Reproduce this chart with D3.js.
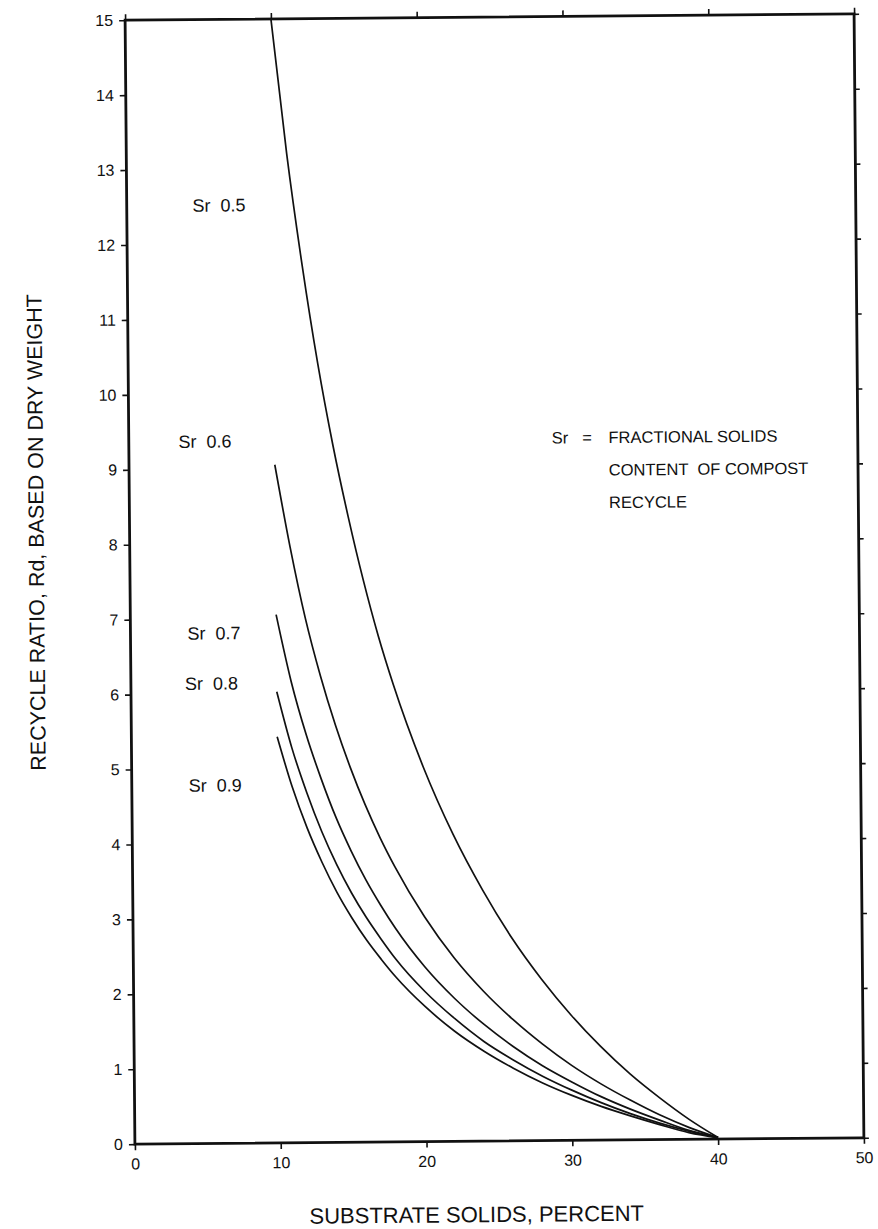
<!DOCTYPE html>
<html>
<head>
<meta charset="utf-8">
<script src="https://cdn.jsdelivr.net/npm/d3@7"></script>
<style>
  body { margin: 0; background: #fff; }
  text { font-family: "Liberation Sans", Arial, sans-serif; fill: #111; }
</style>
</head>
<body>
<div id="chart"></div>
<script>
// substrate solids, percent (x positions)
var solids = [10, 11, 12, 13, 14, 15, 16, 17, 18, 20, 22, 24, 26, 28, 30, 32, 34, 36, 38, 40];

// recycle ratio Rd
var sr05 = [15, 13.2, 11.7, 10.4, 9.3, 8.35, 7.5, 6.75, 6.1, 5.0, 4.1, 3.35, 2.7, 2.15, 1.67, 1.25, 0.88, 0.56, 0.27, 0.02];
var sr06 = [9.05, 7.95, 7.0, 6.23, 5.57, 5.0, 4.5, 4.06, 3.67, 3.0, 2.45, 2.0, 1.62, 1.29, 1.0, 0.75, 0.53, 0.33, 0.16, 0.02];
var sr07 = [7.05, 6.15, 5.44, 4.85, 4.33, 3.89, 3.5, 3.16, 2.85, 2.33, 1.91, 1.56, 1.26, 1.0, 0.78, 0.58, 0.41, 0.26, 0.12, 0.02];
var sr08 = [6.02, 5.27, 4.67, 4.15, 3.71, 3.33, 3.0, 2.71, 2.44, 2.0, 1.64, 1.33, 1.08, 0.86, 0.67, 0.5, 0.35, 0.22, 0.11, 0.02];
var sr09 = [5.42, 4.75, 4.2, 3.74, 3.34, 3.0, 2.7, 2.44, 2.2, 1.8, 1.47, 1.2, 0.97, 0.77, 0.6, 0.45, 0.32, 0.2, 0.09, 0.02];

var curveNames = ["Sr  0.5", "Sr  0.6", "Sr  0.7", "Sr  0.8", "Sr  0.9"];

var xTicks = [0, 10, 20, 30, 40, 50];
var yTicks = d3.range(0, 16);

var legendHead = ["Sr", "=", "FRACTIONAL SOLIDS"];
var legendLines = ["CONTENT  OF COMPOST", "RECYCLE"];

(function drawChart(){

  var W = 878, H = 1229;
  var margin = {top: 17, right: 19, bottom: 88, left: 130};
  var width = W - margin.left - margin.right,
      height = H - margin.top - margin.bottom;

  var x = d3.scaleLinear().domain([0, 50]).range([0, width]);
  var y = d3.scaleLinear().domain([0, 15]).range([height, 0]);

  var svg = d3.select("#chart").append("svg")
      .attr("width", W)
      .attr("height", H);

  // the scanned page sits slightly askew
  var g = svg.append("g")
      .attr("transform", "rotate(-0.5," + (margin.left + width / 2) + "," + (margin.top + height / 2) + ") translate(" + [margin.left, margin.top] + ")");

  // axes: ticks point outwards on all four sides
  var yAxis = d3.axisLeft(y).tickValues(yTicks).tickSize(6).tickPadding(6).tickFormat(d3.format("d"));
  var yAxisR = d3.axisRight(y).tickValues(yTicks).tickSize(5).tickFormat("");
  var xAxis = d3.axisBottom(x).tickValues(xTicks).tickSize(6).tickPadding(8).tickFormat(d3.format("d"));
  var xAxisT = d3.axisTop(x).tickValues(xTicks).tickSize(6).tickFormat("");

  g.append("g").attr("class", "y axis").call(yAxis);
  g.append("g").attr("class", "y axis r").attr("transform", "translate(" + width + ",0)").call(yAxisR);
  g.append("g").attr("class", "x axis").attr("transform", "translate(0," + height + ")").call(xAxis);
  g.append("g").attr("class", "x axis t").call(xAxisT);

  g.selectAll(".axis .domain").remove();
  g.selectAll(".axis line").attr("stroke", "#111").attr("stroke-width", 1.6);
  g.selectAll(".axis text")
      .attr("font-family", "Liberation Sans, Arial, sans-serif")
      .attr("font-size", "16px")
      .attr("fill", "#111");

  g.append("rect")
      .attr("x", 0).attr("y", 0)
      .attr("width", width).attr("height", height)
      .attr("fill", "none")
      .attr("stroke", "#111")
      .attr("stroke-width", 2.8);

  var series = [sr05, sr06, sr07, sr08, sr09].map(function(vals, i){
    return {
      name: curveNames[i],
      values: solids.map(function(s, j){ return {x: s, y: vals[j]}; })
    };
  });

  var line = d3.line()
      .curve(d3.curveMonotoneX)
      .x(function(d){ return x(d.x); })
      .y(function(d){ return y(d.y); });

  g.selectAll(".lines")
      .data(series)
    .enter().append("path")
      .attr("class", "lines")
      .attr("d", function(d){ return line(d.values); })
      .attr("fill", "none")
      .attr("stroke", "#111")
      .attr("stroke-width", 1.7);

  // curve labels, placed at the left of each curve's start
  var labelAt = [[4.5, 12.52], [3.4, 9.37], [3.9, 6.81], [3.7, 6.14], [3.9, 4.78]];
  g.selectAll(".curve-label")
      .data(series)
    .enter().append("text")
      .attr("class", "curve-label")
      .attr("x", function(d, i){ return x(labelAt[i][0]); })
      .attr("y", function(d, i){ return y(labelAt[i][1]); })
      .attr("dy", "0.35em")
      .attr("font-size", "18px")
      .style("white-space", "pre")
      .text(function(d){ return d.name; });

  // legend note
  var note = g.append("text")
      .attr("font-size", "16.5px")
      .style("white-space", "pre");
  var headX = [29.0, 31.1, 32.9];
  note.selectAll(".head")
      .data(legendHead)
    .enter().append("tspan")
      .attr("class", "head")
      .attr("x", function(d, i){ return x(headX[i]); })
      .attr("y", y(9.3))
      .text(function(d){ return d; });
  note.selectAll(".sub")
      .data(legendLines)
    .enter().append("tspan")
      .attr("class", "sub")
      .attr("x", x(32.9))
      .attr("y", function(d, i){ return y(9.3) + 32.5 * (i + 1); })
      .text(function(d){ return d; });

  // axis titles
  g.append("text")
      .attr("transform", "translate(-86," + (height * 0.455) + ")rotate(-90)")
      .attr("text-anchor", "middle")
      .attr("font-size", "21.5px")
      .text("RECYCLE RATIO, Rd, BASED ON DRY WEIGHT");

  g.append("text")
      .attr("transform", "translate(" + (width * 0.468) + "," + (height + 81) + ")")
      .attr("text-anchor", "middle")
      .attr("font-size", "22px")
      .text("SUBSTRATE SOLIDS, PERCENT");

})();
</script>
</body>
</html>
